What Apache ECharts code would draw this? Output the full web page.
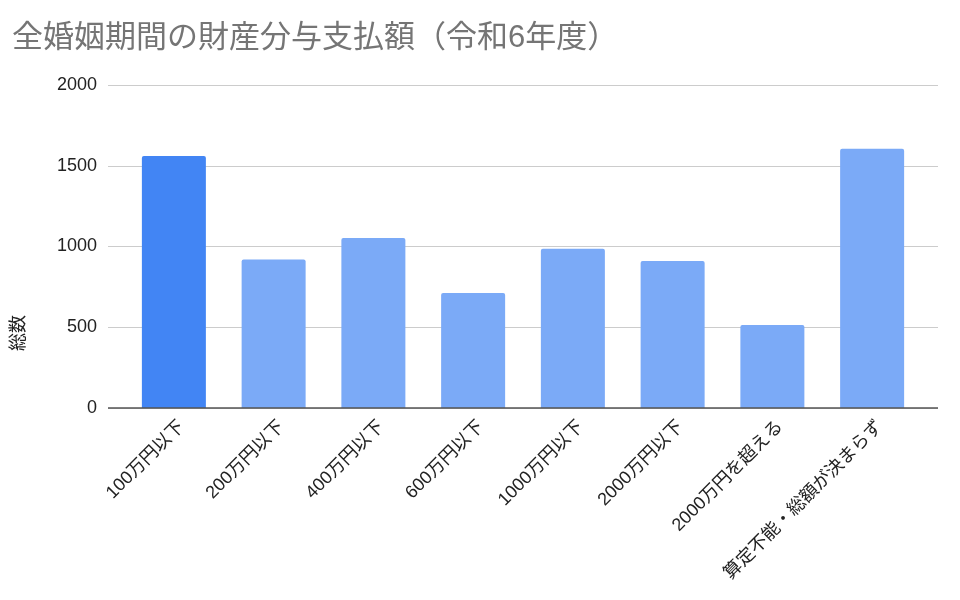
<!DOCTYPE html>
<html lang="ja">
<head>
  <meta charset="UTF-8">
  <title>全婚姻期間の財産分与支払額</title>
  <script src="https://cdn.jsdelivr.net/npm/echarts@6.0.0/dist/echarts.min.js"></script>
  <style>
    html, body { margin: 0; padding: 0; background: #fff; }
    #main { width: 960px; height: 600px; }
  </style>
</head>
<body>
  <div id="main"></div>
  <script>
    // 区分と件数
    const categories = ['100万円以下', '200万円以下', '400万円以下', '600万円以下',
      '1000万円以下', '2000万円以下', '2000万円を超える', '算定不能・総額が決まらず'];
    const counts = [1560, 920, 1052, 712, 986, 910, 514, 1606];
    const yTicks = [0, 500, 1000, 1500, 2000];

    const font = '"Liberation Sans", Arial, "Noto Sans CJK JP", sans-serif';
    const baseColor = '#4285F4';
    const lightColor = '#7BAAF7';

    let chart = echarts.init(document.getElementById('main'));

    let option = {
      animation: false,
      title: {
        text: '全婚姻期間の財産分与支払額（令和6年度）',
        left: 7,
        top: 18,
        textStyle: { fontFamily: font, fontSize: 31, fontWeight: 'normal', color: '#757575' }
      },
      graphic: [{
        type: 'text',
        x: 19,
        y: 333,
        rotation: Math.PI / 2,
        style: {
          text: '総数',
          fontFamily: font,
          fontSize: 18,
          fill: '#222',
          align: 'center',
          verticalAlign: 'middle'
        }
      }],
      grid: [
        // 目盛線用
        { left: 108, right: 22, top: 85, bottom: 192 },
        // 棒グラフ用
        { left: 124, right: 38, top: 85, bottom: 192 }
      ],
      xAxis: [
        { gridIndex: 0, type: 'category', data: categories, show: false },
        {
          gridIndex: 1,
          type: 'category',
          data: categories,
          axisLine: { show: false },
          axisTick: { show: false },
          axisLabel: {
            rotate: 45,
            interval: 0,
            margin: 8,
            verticalAlign: 'top',
            padding: [2, 0, 0, 0],
            fontFamily: font,
            fontSize: 18,
            color: '#222'
          }
        }
      ],
      yAxis: [
        {
          gridIndex: 0,
          type: 'value',
          min: yTicks[0],
          max: yTicks[yTicks.length - 1],
          interval: 500,
          axisLine: { show: false },
          axisTick: { show: false },
          axisLabel: {
            margin: 11,
            formatter: v => String(v),
            fontFamily: font,
            fontSize: 18,
            color: '#222'
          },
          splitLine: { lineStyle: { color: '#cccccc', width: 1 } }
        },
        {
          gridIndex: 1,
          type: 'value',
          min: yTicks[0],
          max: yTicks[yTicks.length - 1],
          interval: 500,
          show: false,
          splitLine: { show: false }
        }
      ],
      series: [
        {
          type: 'bar',
          xAxisIndex: 1,
          yAxisIndex: 1,
          barWidth: 64,
          data: counts.map((v, i) => ({
            value: v,
            itemStyle: { color: i === 0 ? baseColor : lightColor, borderRadius: [2, 2, 0, 0] }
          })),
          z: 2
        },
        {
          // ゼロ線
          type: 'line',
          xAxisIndex: 0,
          yAxisIndex: 0,
          data: [],
          markLine: {
            silent: true,
            symbol: 'none',
            label: { show: false },
            lineStyle: { color: '#555', width: 1.5, type: 'solid' },
            data: [{ yAxis: 0 }]
          },
          z: 3
        }
      ]
    };

    chart.setOption(option);
  </script>
</body>
</html>
